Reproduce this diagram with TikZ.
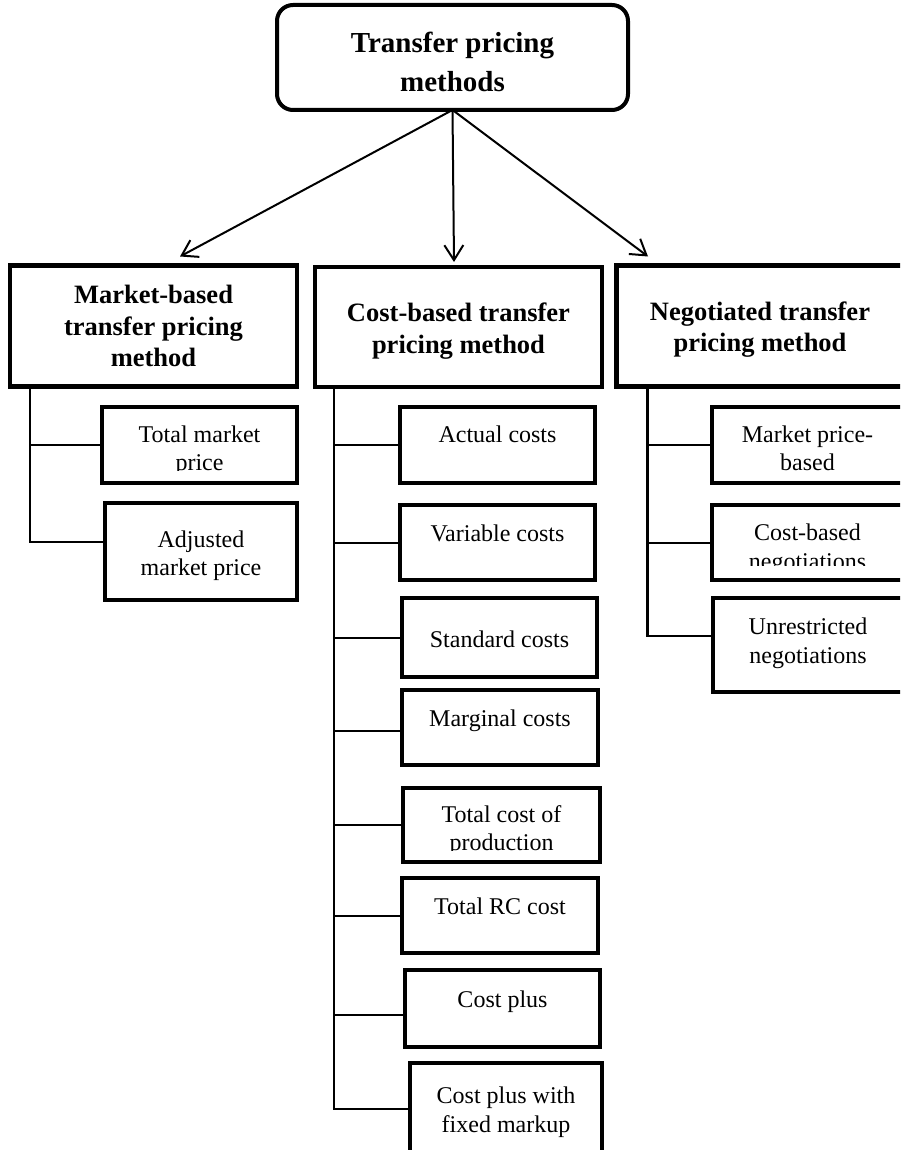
\documentclass[tikz,border=0pt]{standalone}
\usepackage{fontspec}
\setmainfont{Liberation Serif}
\usetikzlibrary{arrows.meta}

\begin{document}
\begin{tikzpicture}[x=1pt,y=-1pt,
  rootbox/.style={draw, line width=4pt, rounded corners=16pt, minimum width=351pt, minimum height=105pt, inner sep=0pt, outer sep=0pt},
  headbox/.style={draw, line width=4.5pt, minimum width=287pt, minimum height=121pt, inner sep=0pt, outer sep=0pt},
  leafbox/.style={draw, line width=4.5pt, inner sep=0pt, outer sep=0pt},
  roottext/.style={font=\fontsize{29}{39}\selectfont\bfseries, align=center, inner sep=0pt, anchor=base},
  headtext/.style={font=\fontsize{26.5}{31.5}\selectfont\bfseries, align=center, inner sep=0pt, anchor=base},
  leaftext/.style={font=\fontsize{24}{28.5}\selectfont, align=center, inner sep=0pt, anchor=base},
  arr/.style={line width=2pt, -{Straight Barb[length=15pt,width=19pt]}},
  trunk/.style={line width=2.5pt},
  twig/.style={line width=2pt},
]
\path[use as bounding box] (0,0) rectangle (900,1150);
\clip (0,0) rectangle (900,1150);

% root
\node[rootbox] (root) at (452.5,57.5) {};
\node[roottext] (roott) at ([yshift=-86.5pt]root.north) {Transfer pricing\\methods};

% three method families
\node[headbox] (mk) at (153.5,326) {};
\node[headtext] (mkt) at ([yshift=-101pt]mk.north) {Market-based\\transfer pricing\\method};
\node[headbox, minimum height=120pt] (cb) at (458.5,327) {};
\node[headtext] (cbt) at ([yshift=-86pt]cb.north) {Cost-based transfer\\pricing method};
\node[headbox] (ng) at (760,326) {};
\node[headtext] (ngt) at ([yshift=-86pt]ng.north) {Negotiated transfer\\pricing method};

\draw[arr] (root.south) -- ([xshift=26.5pt,yshift=9pt]mk.north);
\draw[arr] (root.south) -- ([xshift=-4.5pt,yshift=5pt]cb.north);
\draw[arr] (root.south) -- ([xshift=-112pt,yshift=9pt]ng.north);

% market-based variants
\node[leafbox, minimum width=195pt, minimum height=76pt] (lm1) at (199.5,445) {};
\begin{scope}
  \clip (lm1.north west) rectangle ([yshift=13pt]lm1.south east);
  \node[leaftext] (lm1t) at ([yshift=-63.5pt]lm1.north) {Total market\\price};
\end{scope}
\node[leafbox, minimum width=192pt, minimum height=97pt] (lm2) at (201,551.5) {};
\node[leaftext] (lm2t) at ([yshift=-72.5pt]lm2.north) {Adjusted\\market price};

\coordinate (ltop) at ([xshift=20pt]mk.south west);
\draw[trunk] (ltop) |- ([yshift=9.5pt]lm2.west);
\draw[twig] (ltop |- lm1.west) -- (lm1.west);

% cost-based variants
\node[leafbox, minimum width=195pt, minimum height=76pt] (c1) at (497.5,445) {};
\node[leaftext] (c1t) at ([yshift=-35pt]c1.north) {Actual costs};
\node[leafbox, minimum width=195pt, minimum height=75pt] (c2) at (497.5,542.5) {};
\node[leaftext] (c2t) at ([yshift=-36pt]c2.north) {Variable costs};
\node[leafbox, minimum width=195pt, minimum height=79pt] (c3) at (499.5,637.5) {};
\node[leaftext] (c3t) at ([yshift=-49pt]c3.north) {Standard costs};
\node[leafbox, minimum width=196pt, minimum height=75pt] (c4) at (500,727.5) {};
\node[leaftext] (c4t) at ([yshift=-36pt]c4.north) {Marginal costs};
\node[leafbox, minimum width=197pt, minimum height=74pt] (c5) at (501.5,825) {};
\begin{scope}
  \clip (c5.north west) rectangle ([yshift=12pt]c5.south east);
  \node[leaftext] (c5t) at ([yshift=-62.5pt]c5.north) {Total cost of\\production};
\end{scope}
\node[leafbox, minimum width=196pt, minimum height=75pt] (c6) at (500,915.5) {};
\node[leaftext] (c6t) at ([yshift=-36pt]c6.north) {Total RC cost};
\node[leafbox, minimum width=195pt, minimum height=77pt] (c7) at (502.5,1008.5) {};
\node[leaftext] (c7t) at ([yshift=-37pt]c7.north) {Cost plus};
\node[leafbox, minimum width=192pt, minimum height=97pt] (c8) at (506,1111.5) {};
\node[leaftext] (c8t) at ([yshift=-69pt]c8.north) {Cost plus with\\fixed markup};

\coordinate (ctop) at ([xshift=19pt]cb.south west);
\draw[trunk] (ctop) |- ([yshift=2.5pt]c8.west);
\draw[twig] (ctop |- c1.west) -- (c1.west);
\draw[twig] (ctop |- c2.west) -- (c2.west);
\draw[twig] (ctop |- c3.west) -- (c3.west);
\draw[twig] ([yshift=-3.5pt]ctop |- c4.west) -- ([yshift=-3.5pt]c4.west);
\draw[twig] (ctop |- c5.west) -- (c5.west);
\draw[twig] (ctop |- c6.west) -- (c6.west);
\draw[twig] ([yshift=-6.5pt]ctop |- c7.west) -- ([yshift=-6.5pt]c7.west);

% negotiated variants
\node[leafbox, minimum width=191pt, minimum height=76pt] (r1) at (807.5,445) {};
\node[leaftext] (r1t) at ([yshift=-63.5pt]r1.north) {Market price-\\based};
\node[leafbox, minimum width=191pt, minimum height=75pt] (r2) at (807.5,542.5) {};
\begin{scope}
  \clip (r2.north west) rectangle ([yshift=15pt]r2.south east);
  \node[leaftext] (r2t) at ([yshift=-64pt]r2.north) {Cost-based\\negotiations};
\end{scope}
\node[leafbox, minimum width=190pt, minimum height=94pt] (r3) at (808,645) {};
\node[leaftext] (r3t) at ([yshift=-65pt]r3.north) {Unrestricted\\negotiations};

\coordinate (rtop) at ([xshift=31pt]ng.south west);
\draw[trunk] (rtop) |- ([yshift=9pt]r3.west);
\draw[twig] (rtop |- r1.west) -- (r1.west);
\draw[twig] (rtop |- r2.west) -- (r2.west);
\end{tikzpicture}
\end{document}
